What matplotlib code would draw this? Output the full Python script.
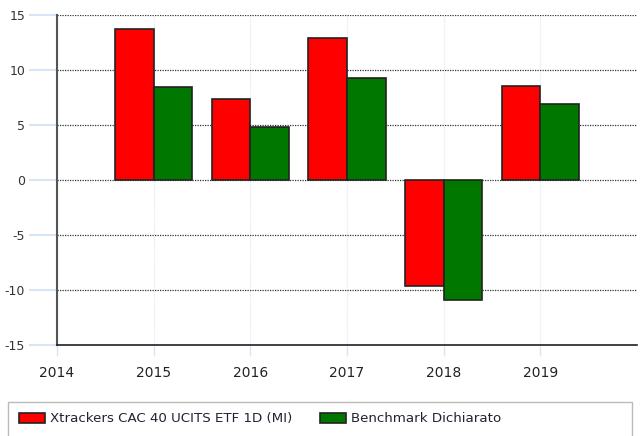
import matplotlib
matplotlib.use("Agg")
import matplotlib.pyplot as plt
from matplotlib.patches import Rectangle
import numpy as np

plt.rcParams["axes.unicode_minus"] = False

# Data
years = [2015, 2016, 2017, 2018, 2019]
etf_values = [13.75, 7.35, 12.9, -9.65, 8.55]
benchmark_values = [8.5, 4.85, 9.25, -10.95, 6.9]
series_names = ["Xtrackers CAC 40 UCITS ETF 1D (MI)", "Benchmark Dichiarato"]
year_ticks = [2014, 2015, 2016, 2017, 2018, 2019]
y_ticks = [-15, -10, -5, 0, 5, 10, 15]

fig = plt.figure(figsize=(6.4, 4.36), dpi=100)
ax = fig.add_axes([57 / 640, 1 - 345 / 436, 580 / 640, 330 / 436])

x = np.array(years)
w = 0.4
ax.bar(x - w / 2, etf_values, width=w, color="#ff0000", edgecolor="#222222",
       linewidth=1.2, label=series_names[0], zorder=3)
ax.bar(x + w / 2, benchmark_values, width=w, color="#007800", edgecolor="#222222",
       linewidth=1.2, label=series_names[1], zorder=3)

ax.set_xlim(2014, 2020)
ax.set_ylim(-15, 15)
ax.set_xticks(year_ticks)
ax.set_yticks(y_ticks)

# grid: dark dotted horizontal, faint vertical
ax.grid(axis="y", color="#333333", linestyle=(0, (1, 1)), linewidth=0.9, zorder=1)
ax.grid(axis="x", color="#dce8f5", linestyle=(0, (1, 1)), linewidth=0.9, zorder=1)

for side in ["top", "right"]:
    ax.spines[side].set_visible(False)
ax.spines["left"].set_color("#555555")
ax.spines["left"].set_linewidth(1.5)
ax.spines["bottom"].set_color("#222222")
ax.spines["bottom"].set_linewidth(1.2)

ax.tick_params(axis="y", length=20, color="#d6e6f6", width=1.5, labelsize=9,
               labelcolor="#333333", pad=3)
ax.tick_params(axis="x", length=8, color="#d6e6f6", width=1, labelsize=10,
               labelcolor="#222222", pad=7)

# legend with a plain grey box
leg = fig.legend(loc="upper left", bbox_to_anchor=(14 / 640, 1 - 407 / 436),
                 ncol=2, frameon=False, fontsize=9.6, handlelength=1.95,
                 handleheight=0.8, handletextpad=0.35, columnspacing=2.1,
                 borderaxespad=0)
for t in leg.get_texts():
    t.set_color("#222233")
fig.patches.append(Rectangle((8 / 640, -0.05), 624 / 640, 0.05 + 1 - 402 / 436,
                             transform=fig.transFigure, fill=False,
                             edgecolor="#bbbbbb", linewidth=1))

fig.savefig("out.png", dpi=100)
